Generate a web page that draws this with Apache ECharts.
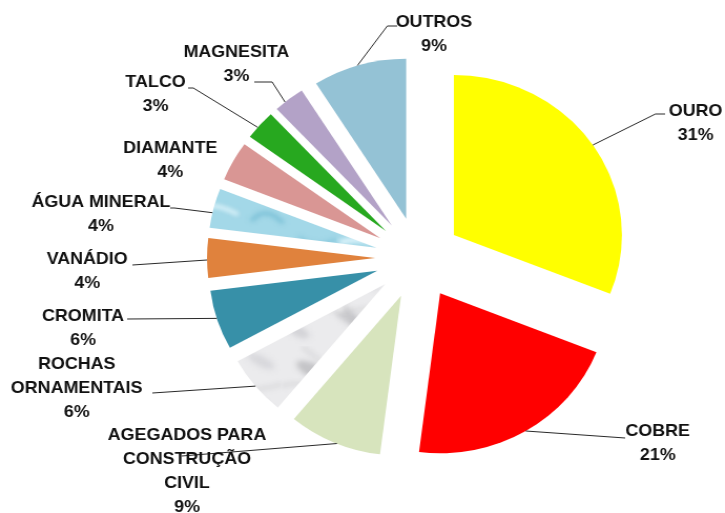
<!DOCTYPE html>
<html>
<head>
<meta charset="utf-8">
<script src="https://cdn.jsdelivr.net/npm/echarts@6/dist/echarts.min.js"></script>
<style>
  html, body { margin: 0; padding: 0; background: #ffffff; overflow: hidden; }
  #chart { width: 690px; height: 513px; transform: scaleX(1.0507); transform-origin: 0 0; }
</style>
</head>
<body>
<div id="chart"></div>
<script>
// Participação por substância mineral (%)
const categories = [
  'OURO',
  'COBRE',
  'AGEGADOS PARA\nCONSTRUÇÃO\nCIVIL',
  'ROCHAS\nORNAMENTAIS',
  'CROMITA',
  'VANÁDIO',
  'ÁGUA MINERAL',
  'DIAMANTE',
  'TALCO',
  'MAGNESITA',
  'OUTROS'
];
const shares = [31, 21, 9, 6, 6, 4, 4, 4, 3, 3, 9];

// Label layout: block centre, where the leader leaves the slice (fraction of
// the slice's sweep) and the leader's elbow / end points. null = no leader.
const labelAnchors = [
  [662, 123], [626, 443], [178, 471], [73, 388], [79, 328], [83, 271],
  [96, 214], [162, 160], [148, 94], [225, 64], [413, 34]
];
const leaderAttach = [0.5, 0.5, 0.47, 0.5, 0.53, 0.45, 0.38, null, 0.4, 0.35, 0.48];
const leaderPath = [
  [[623.8, 114], [633, 114]],
  [[595, 438]],
  [[173, 456]],
  [[145, 393]],
  [[121, 319]],
  [[126, 265]],
  [[166, 208], [162, 208]],
  null,
  [[184, 88], [179, 88]],
  [[259, 82], [242, 82]],
  [[368.6, 26], [378, 26]]
];

const SLICE_OFFSET = 41;
const LABEL_FONT = 'bold 17px "Liberation Sans", Arial, sans-serif';

// Soft water texture
function waterPattern() {
  const c = document.createElement('canvas');
  c.width = 90; c.height = 60;
  const g = c.getContext('2d');
  g.fillStyle = '#a3d8e8';
  g.fillRect(0, 0, 90, 60);
  g.filter = 'blur(2px)';
  g.lineCap = 'round';
  const strokes = [
    [5, 12, 30, 6, 50, 18, 'rgba(235,250,255,0.85)', 5],
    [40, 40, 60, 30, 85, 44, 'rgba(235,250,255,0.8)', 4],
    [10, 50, 22, 36, 38, 52, 'rgba(110,185,210,0.7)', 4],
    [55, 8, 70, 20, 88, 10, 'rgba(110,185,210,0.6)', 3],
    [20, 28, 35, 22, 48, 32, 'rgba(200,238,248,0.9)', 3]
  ];
  strokes.forEach(s => {
    g.strokeStyle = s[6]; g.lineWidth = s[7];
    g.beginPath(); g.moveTo(s[0], s[1]); g.quadraticCurveTo(s[2], s[3], s[4], s[5]); g.stroke();
  });
  return c;
}

// Soft marble texture with grey veins
function marblePattern() {
  const c = document.createElement('canvas');
  c.width = 100; c.height = 80;
  const g = c.getContext('2d');
  g.fillStyle = '#ebebed';
  g.fillRect(0, 0, 100, 80);
  g.filter = 'blur(2.5px)';
  const blobs = [
    [30, 25, 18, 7, 'rgba(165,165,170,0.55)'],
    [70, 55, 22, 6, 'rgba(175,175,180,0.5)'],
    [15, 65, 12, 5, 'rgba(190,190,195,0.5)'],
    [80, 15, 14, 5, 'rgba(200,200,205,0.5)'],
    [50, 40, 10, 4, 'rgba(250,250,250,0.9)']
  ];
  blobs.forEach(b => {
    g.fillStyle = b[4];
    g.beginPath(); g.ellipse(b[0], b[1], b[2], b[3], 0.5, 0, Math.PI * 2); g.fill();
  });
  g.strokeStyle = 'rgba(150,150,155,0.45)';
  g.lineWidth = 1.5;
  g.beginPath(); g.moveTo(0, 40); g.bezierCurveTo(25, 30, 45, 55, 100, 38); g.stroke();
  g.beginPath(); g.moveTo(20, 0); g.bezierCurveTo(35, 20, 60, 15, 75, 80); g.stroke();
  return c;
}

const sliceColors = [
  '#ffff00',
  '#ff0000',
  '#d7e4bd',
  { image: marblePattern(), repeat: 'repeat' },
  '#3790a8',
  '#e0823d',
  { image: waterPattern(), repeat: 'repeat' },
  '#d99694',
  '#27a81f',
  '#b3a2c7',
  '#94c2d5'
];

const chart = echarts.init(document.getElementById('chart'), null, { renderer: 'canvas' });

chart.setOption({
  backgroundColor: '#ffffff',
  animation: false,
  series: [{
    type: 'pie',
    center: [398, 258],
    radius: 160,
    startAngle: 90,
    clockwise: true,
    selectedMode: 'multiple',
    selectedOffset: SLICE_OFFSET,
    emphasis: { disabled: true },
    label: { show: false },
    labelLine: { show: false },
    data: categories.map((name, i) => ({
      name: name,
      value: shares[i],
      selected: true,
      itemStyle: { color: sliceColors[i] }
    }))
  }]
});

// Labels and leader lines, anchored on the slice geometry computed by the pie layout
const pieData = chart.getModel().getSeriesByIndex(0).getData();
const graphics = [];
categories.forEach((name, i) => {
  const L = pieData.getItemLayout(i);
  const value = pieData.get('value', i);
  if (leaderAttach[i] != null) {
    const mid = (L.startAngle + L.endAngle) / 2;
    const ax = L.cx + SLICE_OFFSET * Math.cos(mid);
    const ay = L.cy + SLICE_OFFSET * Math.sin(mid);
    const a = L.startAngle + leaderAttach[i] * (L.endAngle - L.startAngle);
    const pts = [[ax + L.r * Math.cos(a), ay + L.r * Math.sin(a)]].concat(leaderPath[i]);
    graphics.push({
      type: 'polyline',
      silent: true,
      z: 5,
      shape: { points: pts },
      style: { stroke: '#2a2a2a', lineWidth: 1, fill: null }
    });
  }
  graphics.push({
    type: 'text',
    silent: true,
    z: 10,
    x: labelAnchors[i][0],
    y: labelAnchors[i][1],
    style: {
      text: name + '\n' + value + '%',
      font: LABEL_FONT,
      fill: '#111111',
      align: 'center',
      verticalAlign: 'middle',
      lineHeight: 24
    }
  });
});
chart.setOption({ graphic: graphics });
</script>
</body>
</html>
